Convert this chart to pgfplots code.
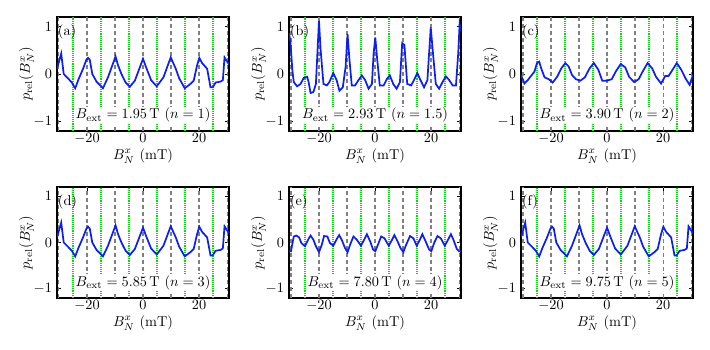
\documentclass[border=0pt]{standalone}
\usepackage{pgfplots}
\usepackage{pgfplotstable}
\pgfplotsset{compat=1.18}

\definecolor{vgreen}{RGB}{0,225,0}
\definecolor{vgray}{RGB}{128,128,128}
\definecolor{cblue}{RGB}{10,30,245}

% panels (a), (d), (f)
\pgfplotstableread{
x y
-30.7 0.11
-29.2 0.43
-28.3 0.0
-26.8 -0.09
-25.4 -0.18
-24.2 -0.30
-23.0 -0.11
-21.4 0.11
-20.2 0.30
-19.6 0.34
-19.0 0.30
-18.1 0.0
-16.6 -0.16
-14.3 -0.30
-12.5 -0.07
-9.8 0.37
-8.9 0.18
-7.7 0.0
-6.2 -0.18
-4.7 -0.27
-2.9 -0.14
0.0 0.32
1.3 0.11
2.9 -0.13
4.9 -0.26
7.3 -0.07
9.9 0.35
11.7 0.11
12.9 -0.09
14.9 -0.30
16.9 -0.21
18.1 -0.14
19.3 0.18
20.1 0.34
21.1 0.23
22.9 0.11
24.1 -0.28
24.9 -0.28
25.9 -0.18
27.7 -0.16
28.5 -0.13
29.1 0.35
30.7 0.2
}\tabA

% panel (b)
\pgfplotstableread{
x y
-30.7 0.86
-30.2 0.68
-29.5 0.08
-29.0 -0.17
-27.8 -0.26
-26.6 -0.21
-25.4 -0.08
-24.2 -0.06
-23.7 -0.17
-23.0 -0.40
-22.0 -0.38
-21.1 -0.21
-20.0 1.12
-19.4 0.5
-18.4 -0.21
-17.2 -0.24
-16.3 -0.17
-14.9 0.02
-13.7 -0.13
-12.7 -0.35
-11.5 -0.28
-10.5 0.15
-9.8 0.84
-9.1 0.29
-8.3 -0.24
-7.1 -0.24
-5.9 -0.13
-4.7 -0.03
-3.5 -0.13
-2.3 -0.31
-1.1 -0.21
-0.5 0.43
0.1 0.77
0.7 0.36
1.7 -0.24
3.1 -0.24
4.3 -0.10
5.3 -0.03
6.5 -0.21
7.7 -0.31
8.9 -0.17
9.7 0.65
10.5 0.61
11.5 -0.21
12.9 -0.24
13.9 -0.13
15.1 0.02
16.0 -0.10
17.5 -0.28
18.7 -0.13
19.9 0.98
20.6 0.5
21.7 -0.21
22.9 -0.31
24.1 -0.17
25.3 -0.05
26.5 -0.13
27.7 -0.24
28.9 -0.24
29.7 0.43
30.2 1.05
30.7 0.9
}\tabB

% panel (c)
\pgfplotstableread{
x y
-30.7 -0.02
-29.5 -0.20
-28.3 -0.13
-27.1 -0.04
-25.9 0.05
-25.0 0.23
-24.2 0.26
-23.5 0.12
-22.3 -0.07
-20.8 -0.11
-19.4 -0.18
-17.8 -0.06
-16.3 0.12
-14.9 0.23
-13.7 0.16
-12.5 -0.02
-11.1 -0.11
-9.5 -0.14
-7.9 -0.07
-6.2 0.12
-4.7 0.23
-3.1 0.09
-1.7 -0.14
0.0 -0.14
1.7 -0.11
3.1 0.05
4.9 0.21
6.5 0.14
7.9 -0.06
9.7 -0.17
11.3 -0.11
12.7 0.05
14.5 0.23
16.1 0.12
17.5 -0.06
19.3 -0.20
20.8 -0.04
22.0 -0.04
23.2 0.07
24.9 0.23
26.5 0.09
28.0 -0.09
29.5 -0.23
30.7 -0.02
}\tabC

% panel (e)
\pgfplotstableread{
x y
-30.7 -0.19
-30.0 -0.19
-29.0 0.13
-28.1 0.15
-27.1 0.11
-26.3 -0.01
-25.0 -0.08
-23.8 0.07
-23.0 0.15
-22.0 0.06
-21.1 -0.08
-20.0 -0.21
-19.0 -0.05
-18.2 0.14
-17.0 0.13
-16.1 -0.01
-14.9 -0.07
-13.7 0.07
-12.8 0.16
-11.9 0.06
-10.7 -0.12
-9.8 -0.21
-8.9 -0.05
-7.7 0.13
-6.5 0.06
-5.0 -0.07
-3.8 0.07
-2.9 0.18
-1.7 0.02
-0.7 -0.15
0.1 -0.19
1.3 -0.01
2.2 0.13
3.4 0.09
4.9 -0.07
6.1 0.06
6.9 0.16
8.1 0.02
9.1 -0.12
10.1 -0.21
11.1 -0.05
12.5 0.14
13.7 0.09
14.9 -0.07
16.1 0.07
16.9 0.18
18.1 0.02
19.3 -0.15
20.1 -0.19
21.1 -0.01
22.3 0.14
23.5 0.09
24.9 -0.07
25.9 0.04
27.1 0.18
28.0 0.06
29.2 -0.14
30.0 -0.19
30.7 -0.19
}\tabE

\pgfplotsset{
  panel/.style={
    scale only axis,
    width=120.4pt,
    anchor=north west,
    xmin=-30.7, xmax=30.7,
    ymin=-1.2, ymax=1.2,
    xtick={-20,0,20},
    ytick={-1,0,1},
    axis line style={line width=0.9pt},
    tick style={black, line width=0.6pt},
    major tick length=3pt,
    xticklabel style={inner sep=1pt, yshift=-0.3pt},
    xlabel style={inner sep=1pt, yshift=-1.2pt},
    ylabel shift=-7pt,
    xlabel={$B_N^x$ (mT)},
    ylabel={$p_{\mathrm{rel}}(B_N^x)$},
  },
}

\newcommand{\vlines}{%
  \pgfplotsinvokeforeach{-30,-20,...,30}{%
    \draw[vgray, line width=0.75pt, dash pattern=on 2.8pt off 2pt] (axis cs:##1,-1.2) -- (axis cs:##1,1.2);}%
  \pgfplotsinvokeforeach{-25,-15,...,25}{%
    \draw[vgreen, line width=0.8pt, dash pattern=on 0.75pt off 0.75pt] (axis cs:##1,-1.2) -- (axis cs:##1,1.2);}%
}

\begin{document}
\begin{tikzpicture}
\path[use as bounding box] (0pt,0pt) rectangle (497pt,-245pt);

\begin{axis}[panel, height=79.8pt, at={(39.9pt,-11.9pt)}]
\vlines
\addplot[cblue, line width=1.2pt] table {\tabA};
\node[anchor=north west, inner sep=0.5pt] at (rel axis cs:0,0.94) {(a)};
\node[fill=white, inner sep=1pt] at (axis cs:0,-0.87) {$B_{\mathrm{ext}}=1.95\,\mathrm{T}$ ($n=1$)};
\end{axis}

\begin{axis}[panel, height=79.8pt, at={(202.3pt,-11.9pt)}]
\vlines
\addplot[cblue, line width=1.2pt] table {\tabB};
\node[anchor=north west, inner sep=0.5pt] at (rel axis cs:0,0.94) {(b)};
\node[fill=white, inner sep=1pt] at (axis cs:0,-0.87) {$B_{\mathrm{ext}}=2.93\,\mathrm{T}$ ($n=1.5$)};
\end{axis}

\begin{axis}[panel, height=79.8pt, at={(364.7pt,-11.9pt)}]
\vlines
\addplot[cblue, line width=1.2pt] table {\tabC};
\node[anchor=north west, inner sep=0.5pt] at (rel axis cs:0,0.94) {(c)};
\node[fill=white, inner sep=1pt] at (axis cs:0,-0.87) {$B_{\mathrm{ext}}=3.90\,\mathrm{T}$ ($n=2$)};
\end{axis}

\begin{axis}[panel, height=77.7pt, at={(39.9pt,-130.9pt)}]
\vlines
\addplot[cblue, line width=1.2pt] table {\tabA};
\node[anchor=north west, inner sep=0.5pt] at (rel axis cs:0,0.94) {(d)};
\node[fill=white, inner sep=1pt] at (axis cs:0,-0.87) {$B_{\mathrm{ext}}=5.85\,\mathrm{T}$ ($n=3$)};
\end{axis}

\begin{axis}[panel, height=77.7pt, at={(202.3pt,-130.9pt)}]
\vlines
\addplot[cblue, line width=1.2pt] table {\tabE};
\node[anchor=north west, inner sep=0.5pt] at (rel axis cs:0,0.94) {(e)};
\node[fill=white, inner sep=1pt] at (axis cs:0,-0.87) {$B_{\mathrm{ext}}=7.80\,\mathrm{T}$ ($n=4$)};
\end{axis}

\begin{axis}[panel, height=77.7pt, at={(364.7pt,-130.9pt)}]
\vlines
\addplot[cblue, line width=1.2pt] table {\tabA};
\node[anchor=north west, inner sep=0.5pt] at (rel axis cs:0,0.94) {(f)};
\node[fill=white, inner sep=1pt] at (axis cs:0,-0.87) {$B_{\mathrm{ext}}=9.75\,\mathrm{T}$ ($n=5$)};
\end{axis}
\end{tikzpicture}
\end{document}
